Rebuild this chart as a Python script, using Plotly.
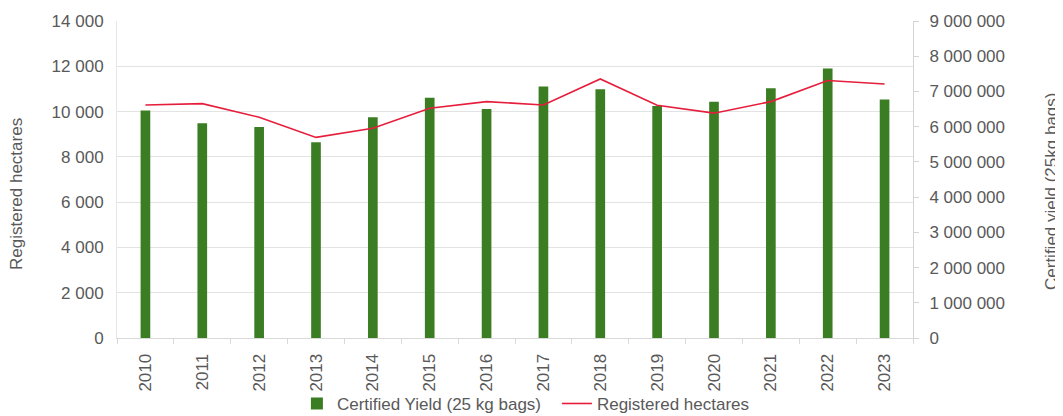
import plotly.graph_objects as go

years = [str(y) for y in range(2010, 2024)]
certified_yield = [6460000, 6100000, 5990000, 5560000, 6270000, 6820000, 6500000,
                   7140000, 7060000, 6590000, 6710000, 7090000, 7650000, 6770000]
registered_hectares = [10290, 10350, 9750, 8860, 9260, 10150, 10440,
                       10290, 11440, 10280, 9930, 10440, 11370, 11220]

GRAY = "#595959"
FONT = "Liberation Sans, Arial, sans-serif"
FS = 17

fig = go.Figure()
fig.add_trace(go.Bar(
    x=years, y=certified_yield, name="Certified Yield (25 kg bags)",
    marker=dict(color="#3b7d23", line=dict(width=0)), width=0.17, yaxis="y",
))
fig.add_trace(go.Scatter(
    x=years, y=registered_hectares, name="Registered hectares",
    mode="lines", line=dict(color="#e61e3c", width=1.6), yaxis="y2",
))

# page body has an 8px margin, so the figure is 8px smaller and margins shifted
fig.update_layout(
    width=1055, height=408,
    margin=dict(l=109, r=150, t=13, b=78, autoexpand=False),
    paper_bgcolor="white", plot_bgcolor="white",
    separators=". ",
    font=dict(family=FONT, size=FS, color=GRAY),
    showlegend=True,
    legend=dict(orientation="h", x=0.226, xanchor="left", y=-0.208, yanchor="middle",
                font=dict(size=FS, color=GRAY), itemwidth=30, tracegroupgap=0,
                entrywidth=215, entrywidthmode="pixels",
                bgcolor="rgba(0,0,0,0)"),
    xaxis=dict(
        type="category", tickangle=-90, tickson="boundaries",
        ticks="outside", ticklen=5, tickcolor="#d9d9d9",
        showline=True, linecolor="#d9d9d9", linewidth=1,
        showgrid=False, tickfont=dict(size=FS, color=GRAY),
        ticklabelstandoff=8, automargin=False,
    ),
    yaxis=dict(
        side="right", range=[0, 9000000], dtick=1000000, tickformat=",d",
        showgrid=False, showline=True, linecolor="#d4d4d4", linewidth=1,
        ticks="outside", ticklen=5, tickcolor="#d4d4d4",
        zeroline=False, tickfont=dict(size=FS, color=GRAY),
        ticklabelstandoff=7, automargin=False,
    ),
    yaxis2=dict(
        side="left", overlaying="y", range=[0, 14000], dtick=2000, tickformat=",d",
        showgrid=True, gridcolor="#e3e3e3", gridwidth=1,
        showline=True, linecolor="#e6e6e6", linewidth=1, zeroline=False, ticks="",
        tickfont=dict(size=FS, color=GRAY),
        ticklabelstandoff=9, automargin=False,
    ),
    annotations=[
        dict(text="Registered hectares", textangle=-90, xref="paper", yref="paper",
             x=(17 - 117) / 796, y=(338 - 194) / 317, xanchor="center", yanchor="middle",
             showarrow=False, font=dict(size=FS, color=GRAY)),
        dict(text="Certified yield (25kg bags)", textangle=-90, xref="paper", yref="paper",
             x=(1051 - 117) / 796, y=(338 - 192) / 317, xanchor="center", yanchor="middle",
             showarrow=False, font=dict(size=FS, color=GRAY)),
    ],
)

fig.write_html("out.html")
